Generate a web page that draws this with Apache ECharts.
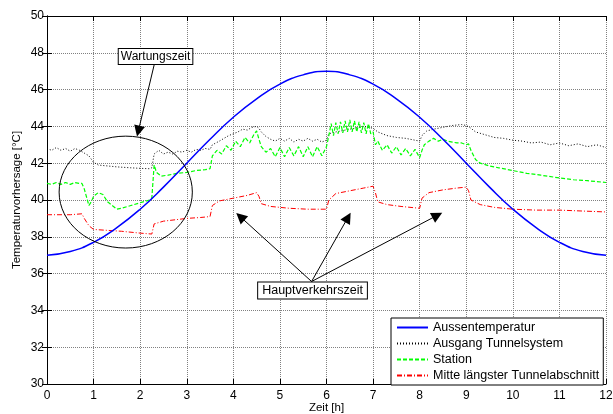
<!DOCTYPE html>
<html>
<head>
<meta charset="utf-8">
<title>Temperaturvorhersage</title>
<style>
  html, body { margin: 0; padding: 0; background: #fff; }
  #main { width: 613px; height: 414px; }
</style>
</head>
<body>
<div id="main"></div>
<script src="https://cdn.jsdelivr.net/npm/echarts@6/dist/echarts.min.js"></script>
<script>
var aussen = [
  [0,37.0],[0.5,37.2],[1,37.7],[1.5,38.5],[2,39.5],[2.5,40.7],[3,42.0],[3.5,43.3],
  [4,44.5],[4.5,45.5],[5,46.3],[5.5,46.8],[6,47.0],[6.5,46.8],[7,46.3],[7.5,45.5],
  [8,44.5],[8.5,43.3],[9,42.0],[9.5,40.7],[10,39.5],[10.5,38.5],[11,37.7],[11.5,37.2],[12,37.0]
];
var ausgang = [
  [0,42.8],[0.1,42.7],[0.2,42.85],[0.3,42.7],[0.4,42.8],[0.5,42.65],[0.6,42.8],[0.7,42.7],
  [0.8,42.55],[0.9,42.4],[1.0,42.05],[1.1,41.9],[1.3,41.85],[1.5,41.8],[1.8,41.75],[2.0,41.72],
  [2.2,41.7],[2.25,41.75],[2.3,42.5],[2.4,42.7],[2.5,42.5],[2.6,42.6],[2.7,42.5],[2.8,42.65],
  [2.9,42.6],[3.0,42.7],[3.1,42.6],[3.2,42.75],[3.3,42.7],[3.4,42.8],[3.5,42.75],[3.55,43.0],
  [3.7,43.2],[3.8,43.35],[3.9,43.5],[4.0,43.6],[4.1,43.7],[4.2,43.85],[4.3,43.8],[4.4,43.95],
  [4.5,44.0],[4.55,43.9],[4.6,43.7],[4.7,43.45],[4.8,43.3],[4.9,43.2],[5.0,43.35],[5.1,43.2],
  [5.2,43.35],[5.3,43.15],[5.4,43.3],[5.5,43.2],[5.6,43.35],[5.7,43.2],[5.8,43.3],[5.9,43.15],
  [6.0,43.25],[6.05,43.6],[6.2,43.7],[6.4,43.8],[6.6,43.9],[6.8,44.0],[6.9,43.95],[7.0,43.9],
  [7.1,43.7],[7.3,43.5],[7.5,43.4],[7.7,43.35],[7.9,43.25],[8.0,43.2],[8.05,43.5],[8.15,43.75],
  [8.3,43.85],[8.5,43.95],[8.7,44.05],[8.9,44.1],[9.0,44.05],[9.1,43.9],[9.2,43.7],[9.4,43.55],
  [9.6,43.4],[9.8,43.35],[10.0,43.25],[10.2,43.2],[10.4,43.1],[10.6,43.15],[10.8,43.0],
  [11.0,43.1],[11.2,42.95],[11.4,43.05],[11.6,42.9],[11.8,43.0],[12.0,42.85]
];
var station = [
  [0,40.9],[0.1,40.85],[0.2,40.95],[0.3,40.85],[0.4,40.95],[0.5,40.85],[0.6,40.95],[0.7,40.9],
  [0.75,40.9],[0.8,40.6],[0.9,39.7],[0.95,39.9],[1.0,40.2],[1.1,40.4],[1.2,40.3],[1.3,39.9],
  [1.4,39.7],[1.5,39.5],[1.6,39.55],[1.8,39.7],[2.0,39.85],[2.2,40.0],[2.25,40.1],[2.3,41.9],
  [2.35,41.5],[2.45,41.3],[2.6,41.35],[2.8,41.45],[3.0,41.5],[3.2,41.6],[3.4,41.65],[3.5,41.7],
  [3.55,42.4],[3.65,42.7],[3.75,42.5],[3.85,42.95],[3.95,42.7],[4.05,43.2],[4.15,42.9],
  [4.25,43.4],[4.35,43.1],[4.45,43.6],[4.5,43.75],[4.55,43.3],[4.6,42.9],[4.7,42.6],
  [4.8,42.8],[4.9,42.35],[5.0,42.85],[5.1,42.35],[5.2,42.85],[5.3,42.4],[5.4,42.9],[5.5,42.35],
  [5.6,42.9],[5.7,42.35],[5.8,42.9],[5.9,42.4],[6.0,42.9],
  [6.05,43.5],[6.1,44.15],[6.15,43.5],[6.2,44.2],[6.25,43.6],[6.3,44.25],[6.35,43.65],
  [6.4,44.3],[6.45,43.7],[6.5,44.35],[6.55,43.7],[6.6,44.3],[6.65,43.7],[6.7,44.25],
  [6.75,43.65],[6.8,44.2],[6.85,43.6],[6.9,44.15],[6.95,43.6],[7.0,43.7],
  [7.05,43.0],[7.1,43.2],[7.2,42.7],[7.3,43.0],[7.4,42.55],[7.5,42.9],[7.6,42.45],[7.7,42.8],
  [7.8,42.4],[7.9,42.75],[8.0,42.3],[8.05,42.7],[8.1,43.0],[8.2,43.2],[8.3,43.35],[8.4,43.2],
  [8.5,43.3],[8.6,43.2],[8.7,43.15],[8.8,43.1],[8.9,43.1],[9.0,43.0],[9.05,43.05],[9.1,42.7],
  [9.2,42.2],[9.3,42.0],[9.5,41.85],[9.7,41.75],[10,41.6],[10.3,41.45],[10.6,41.35],[11,41.2],
  [11.3,41.1],[11.6,41.05],[12,40.95]
];
var mitte = [
  [0,39.2],[0.5,39.2],[0.75,39.25],[0.8,39.0],[0.9,38.6],[1.0,38.4],[1.3,38.35],[1.6,38.3],
  [2.0,38.2],[2.25,38.15],[2.3,38.7],[2.5,38.85],[3.0,39.0],[3.3,39.05],[3.5,39.1],[3.55,39.7],
  [3.7,39.95],[4.0,40.1],[4.3,40.25],[4.5,40.4],[4.55,40.2],[4.6,39.8],[4.8,39.65],[5.2,39.55],
  [5.6,39.5],[6.0,39.5],[6.05,40.0],[6.2,40.35],[6.5,40.5],[6.8,40.65],[7.0,40.75],[7.05,40.4],
  [7.1,39.9],[7.3,39.75],[7.6,39.65],[8.0,39.55],[8.05,40.1],[8.2,40.4],[8.5,40.55],[8.8,40.65],
  [9.0,40.7],[9.05,40.5],[9.1,40.0],[9.3,39.75],[9.6,39.6],[10.0,39.5],[10.5,39.45],[11,39.45],
  [11.5,39.4],[12,39.35]
];

// Anmerkungen in Datenkoordinaten
var wartungText = [2.33, 47.8];
var wartungPfeil = [[2.30, 47.34], [1.96, 43.74]];
var hauptText = [5.70, 35.08];
var hauptStart = [5.68, 35.57];
var hauptZiele = [[4.15, 39.09], [6.46, 39.05], [8.38, 39.17]];
var ellipseMitte = [1.69, 40.43];
var ellipseRadius = [1.43, 3.04];

var FONT = 'Liberation Sans, Arial, sans-serif';

var myChart = echarts.init(document.getElementById('main'));

var pfeile = [[{ coord: wartungPfeil[0] }, { coord: wartungPfeil[1] }]];
for (var i = 0; i < hauptZiele.length; i++) {
  pfeile.push([{ coord: hauptStart }, { coord: hauptZiele[i] }]);
}

function textBox(coord, text, size, pad) {
  return {
    coord: coord,
    symbol: 'rect',
    symbolSize: 0,
    label: {
      show: true,
      position: 'inside',
      formatter: text,
      color: '#000',
      fontFamily: FONT,
      fontSize: size,
      backgroundColor: '#fff',
      borderColor: '#000',
      borderWidth: 1,
      padding: pad
    }
  };
}

var tickStyle = { show: true, inside: true, length: 5, lineStyle: { color: '#000' } };

myChart.setOption({
  animation: false,
  backgroundColor: '#fff',
  textStyle: { fontFamily: FONT },
  grid: { left: 47, right: 7, top: 16, bottom: 30, containLabel: false, outerBoundsMode: 'none' },
  legend: {
    orient: 'vertical',
    left: 391,
    top: 318,
    padding: [3, 4, 3, 5],
    itemWidth: 31,
    itemHeight: 12,
    itemGap: 3,
    borderColor: '#000',
    borderWidth: 1,
    backgroundColor: '#fff',
    borderRadius: 0,
    itemStyle: { opacity: 0 },
    textStyle: { color: '#000', fontSize: 12.5, fontFamily: FONT },
    data: ['Aussentemperatur', 'Ausgang Tunnelsystem', 'Station', 'Mitte längster Tunnelabschnitt']
  },
  xAxis: [{
    type: 'value', min: 0, max: 12, interval: 1, position: 'bottom',
    name: 'Zeit [h]', nameLocation: 'middle', nameGap: 18, nameMoveOverlap: false,
    nameTextStyle: { color: '#000', fontSize: 11.5, fontFamily: FONT },
    axisLine: { lineStyle: { color: '#000', width: 1 } },
    axisTick: tickStyle,
    axisLabel: { color: '#000', fontSize: 12, margin: 6, fontFamily: FONT },
    splitLine: { show: true, lineStyle: { color: '#808080', type: 'dotted', width: 1 } }
  }, {
    type: 'value', min: 0, max: 12, interval: 1, position: 'top',
    axisLine: { lineStyle: { color: '#000', width: 1 } },
    axisTick: tickStyle,
    axisLabel: { show: false },
    splitLine: { show: false }
  }],
  yAxis: [{
    type: 'value', min: 30, max: 50, interval: 2, position: 'left',
    name: 'Temperaturvorhersage [°C]', nameLocation: 'middle', nameGap: 24, nameMoveOverlap: false,
    nameTextStyle: { color: '#000', fontSize: 11.5, fontFamily: FONT },
    axisLine: { show: true, lineStyle: { color: '#000', width: 1 } },
    axisTick: tickStyle,
    axisLabel: { color: '#000', fontSize: 12, margin: 3, fontFamily: FONT },
    splitLine: { show: true, lineStyle: { color: '#808080', type: 'dotted', width: 1 } }
  }, {
    type: 'value', min: 30, max: 50, interval: 2, position: 'right',
    axisLine: { show: true, lineStyle: { color: '#000', width: 1 } },
    axisTick: tickStyle,
    axisLabel: { show: false },
    splitLine: { show: false }
  }],
  series: [{
    name: 'Aussentemperatur',
    type: 'line',
    data: aussen,
    smooth: true,
    symbol: 'none',
    z: 5,
    lineStyle: { color: '#0000ff', width: 1.5 },
    itemStyle: { color: '#0000ff' },
    markLine: {
      silent: true,
      animation: false,
      symbol: ['none', 'triangle'],
      symbolSize: 11,
      label: { show: false },
      lineStyle: { color: '#000', width: 1, type: 'solid' },
      emphasis: { disabled: true },
      data: pfeile
    },
    markPoint: {
      silent: true,
      animation: false,
      data: [
        textBox(wartungText, 'Wartungszeit', 12, [2, 2, 1, 2]),
        textBox(hauptText, 'Hauptverkehrszeit', 12.5, [2, 4, 1, 4])
      ]
    }
  }, {
    name: 'Ausgang Tunnelsystem',
    type: 'line',
    data: ausgang,
    symbol: 'none',
    z: 3,
    lineStyle: { color: '#000', width: 1, type: [1, 2] },
    itemStyle: { color: '#000' }
  }, {
    name: 'Station',
    type: 'line',
    data: station,
    symbol: 'none',
    z: 4,
    lineStyle: { color: '#00ff00', width: 1.2, type: [4, 2] },
    itemStyle: { color: '#00ff00' }
  }, {
    name: 'Mitte längster Tunnelabschnitt',
    type: 'line',
    data: mitte,
    symbol: 'none',
    z: 3,
    lineStyle: { color: '#ff0000', width: 1, type: [5, 2, 1, 2] },
    itemStyle: { color: '#ff0000' }
  }]
});

// Ellipse um die Wartungszeit
var c = myChart.convertToPixel({ gridIndex: 0 }, ellipseMitte);
var r = myChart.convertToPixel({ gridIndex: 0 }, [ellipseMitte[0] + ellipseRadius[0], ellipseMitte[1] + ellipseRadius[1]]);
myChart.setOption({
  graphic: [{
    type: 'ellipse',
    silent: true,
    z: 50,
    shape: { cx: c[0], cy: c[1], rx: r[0] - c[0], ry: c[1] - r[1] },
    style: { fill: null, stroke: '#000', lineWidth: 1 }
  }]
});
</script>
</body>
</html>
